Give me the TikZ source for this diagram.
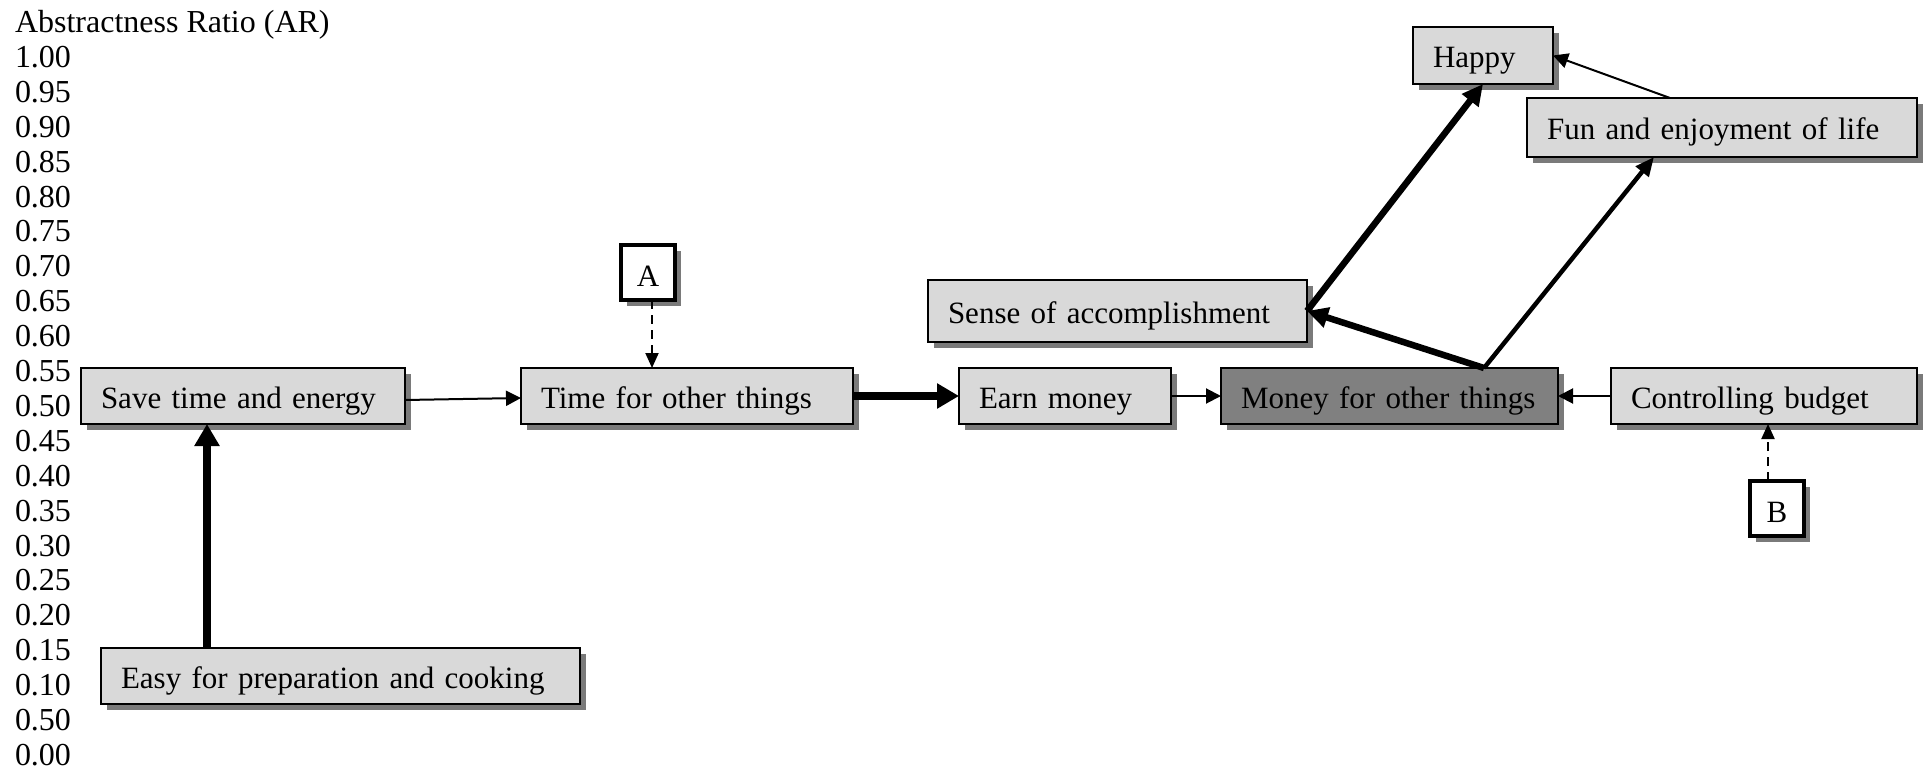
\documentclass[tikz,border=0pt]{standalone}
\usepackage{fontspec}
\setmainfont{Liberation Serif}
\usetikzlibrary{arrows.meta,shadows,calc}
\definecolor{boxgray}{HTML}{D9D9D9}
\definecolor{darkbox}{HTML}{808080}
\definecolor{shade}{HTML}{7A7A7A}
\begin{document}
\begin{tikzpicture}[x=1pt,y=-1pt,
  every node/.style={font=\fontsize{32}{35}\selectfont, inner sep=0pt, outer sep=0pt},
  boxshadow/.style={drop shadow={shadow xshift=6pt, shadow yshift=-6pt, fill=shade, opacity=1}},
  concept/.style={draw=black, line width=2pt, fill=boxgray, anchor=north west,
    font=\fontsize{31}{35}\selectfont, text height=25pt, text depth=0pt,
    align=left, inner xsep=20pt, minimum height=56pt, boxshadow},
  marker/.style={draw=black, line width=3.5pt, fill=white, anchor=north west,
    font=\fontsize{31}{35}\selectfont, text height=27pt, text depth=0pt,
    minimum width=54pt, minimum height=55pt, boxshadow},
  tick/.style={anchor=west},
  linkthin/.style={line width=2pt, -{Triangle[length=15pt,width=15pt]}},
  linkdash/.style={line width=2pt, dash pattern=on 9pt off 6pt, -{Triangle[length=15pt,width=13pt]}},
  linkmid/.style={line width=4.5pt, -{Triangle[length=19pt,width=16pt]}},
  linkbold/.style={line width=6.5pt, -{Triangle[length=21pt,width=20pt]}},
  linkheavy/.style={line width=8pt, -{Triangle[length=22pt,width=24pt]}},
]
\useasboundingbox (0,0) rectangle (1928,770);

% vertical scale
\node[tick] (title) at (15,24.5) {Abstractness Ratio (AR)};
\foreach \lab [count=\i from 0] in {1.00,0.95,0.90,0.85,0.80,0.75,0.70,0.65,0.60,0.55,0.50,0.45,0.40,0.35,0.30,0.25,0.20,0.15,0.10,0.50,0.00}
  \node[tick] (t\i) at (15,{57+34.9*\i}) {\lab};

% concepts
\node[concept, text width=284pt] (save)  at (81,368)   {Save time and energy};
\node[concept, text width=439pt] (easy)  at (101,648)  {Easy for preparation and cooking};
\node[concept, text width=292pt] (time)  at (521,368)  {Time for other things};
\node[concept, text width=172pt] (earn)  at (959,368)  {Earn money};
\node[concept, text width=297pt, fill=darkbox] (money) at (1221,368) {Money for other things};
\node[concept, text width=266pt] (ctrl)  at (1611,368) {Controlling budget};
\node[concept, text width=339pt, minimum height=62pt] (sense) at (928,280) {Sense of accomplishment};
\node[concept, text width=100pt, minimum height=57pt] (happy) at (1413,27) {Happy};
\node[concept, text width=350pt, minimum height=59pt] (fun)   at (1527,98) {Fun and enjoyment of life};

% markers
\node[marker] (A) at (621,245) {A};
\node[marker] (B) at (1750,481) {B};

% anchor points off the box centres
\coordinate (easyup) at ($(easy.north west)+(106,0)$);
\coordinate (mtop)   at ($(money.north west)+(263,0)$);
\coordinate (funlow) at ($(fun.south west)+(127,0)$);
\coordinate (funtop) at ($(fun.north west)+(143,0)$);
\coordinate (atip)   at ($(A.south)+(4,0)$);
\coordinate (btip)   at ($(B.north)+(-9,0)$);

% connectors
\draw[linkheavy] (easyup) -- (easyup |- save.south);
\draw[linkthin]  ($(save.east)+(0,4)$) -- ($(time.west)+(0,2)$);
\draw[linkdash]  (atip) -- (atip |- time.north);
\draw[linkheavy] (time.east) -- (earn.west);
\draw[linkthin]  (earn.east) -- (money.west);
\draw[linkthin]  (ctrl.west) -- (money.east);
\draw[linkdash]  (btip) -- (btip |- ctrl.south);
\draw[linkbold]  (mtop) -- (sense.east);
\draw[linkmid]   (mtop) -- (funlow);
\draw[linkbold]  (sense.east) -- (happy.south);
\draw[linkthin]  (funtop) -- (happy.east);
\end{tikzpicture}
\end{document}
